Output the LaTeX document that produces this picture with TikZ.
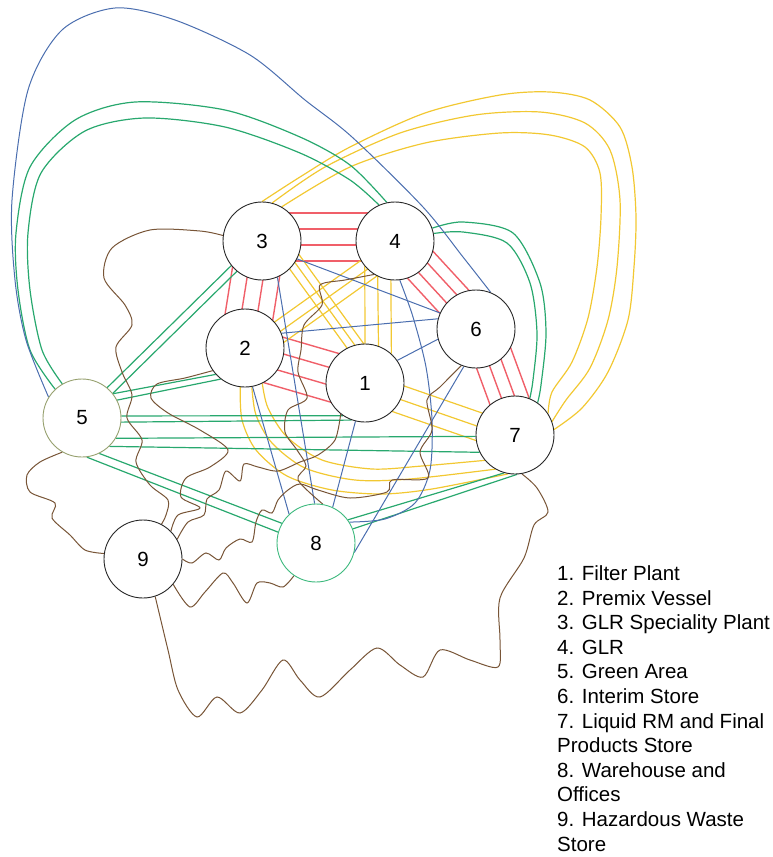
\documentclass[tikz,border=0pt]{standalone}
\usepackage{fontspec}
\setmainfont{Liberation Sans}
\usetikzlibrary{calc}
\pgfdeclarelayer{links}
\pgfsetlayers{links,main}

\definecolor{relA}{RGB}{240,95,105}
\definecolor{relE}{RGB}{242,200,50}
\definecolor{relI}{RGB}{40,168,110}
\definecolor{relO}{RGB}{75,110,175}
\definecolor{relX}{RGB}{120,85,55}
\definecolor{greenarea}{RGB}{150,160,110}
\definecolor{warehouse}{RGB}{60,185,125}

\tikzset{
  dept/.style={circle, draw=black!85, line width=0.9pt, fill=white,
    minimum size=78pt, inner sep=0pt, font=\fontsize{20.5}{24}\selectfont},
  linkA/.style={draw=relA, line width=1.4pt},
  linkE/.style={draw=relE, line width=1.2pt},
  linkI/.style={draw=relI, line width=1.2pt},
  linkO/.style={draw=relO, line width=1pt},
  linkX/.style={draw=relX, line width=1pt},
}

% parallel lines between two node centres, at the given side offsets
\newcommand\bundle[4]{%
  \foreach \bsh in {#4}{%
    \draw[#1] ($(#2.center)!\bsh pt!90:(#3.center)$) -- ($(#3.center)!\bsh pt!-90:(#2.center)$);}}

\begin{document}
\begin{tikzpicture}[x=1pt,y=-1pt]
\useasboundingbox (0,0) rectangle (773,857);

% departments
\node[dept] (n1) at (365,383) {1};
\node[dept] (n2) at (245,348) {2};
\node[dept] (n3) at (262,241) {3};
\node[dept] (n4) at (395,241) {4};
\node[dept, draw=greenarea] (n5) at (82,418) {5};
\node[dept] (n6) at (476,329) {6};
\node[dept] (n7) at (515,435) {7};
\node[dept, draw=warehouse] (n8) at (316,543) {8};
\node[dept] (n9) at (143,559) {9};

\begin{pgfonlayer}{links}
% A: absolutely necessary
\bundle{linkA}{n3}{n4}{28,12,-4,-20}
\bundle{linkA}{n3}{n2}{-25,-9,7,23}
\bundle{linkA}{n4}{n6}{-16,-4,9,21}
\bundle{linkA}{n6}{n7}{-13,0,13,26}
\bundle{linkA}{n2}{n1}{21,5,-12,-28}

% E: especially important
\draw[linkE] (n4.-140) -- (n1.90);
\draw[linkE] (n4.-116) -- (n1.70);
\draw[linkE] (n4.-96) -- (n1.48);
\bundle{linkE}{n4}{n2}{-4,7,18}
\bundle{linkE}{n3}{n1}{6,14,22}
\bundle{linkE}{n1}{n7}{10,-4,-18}
\draw[linkE] plot[smooth] coordinates {(n3.90) (300,177) (350,147) (425,113) (500,95) (550,92) (590,100) (620,127) (632,167) (636,217) (634,267) (628,320) (608,372) (582,408) (n7.8)};
\draw[linkE] plot[smooth] coordinates {(n3.75) (325,167) (400,133) (475,115) (540,112) (585,123) (610,150) (620,200) (617,267) (608,320) (590,368) (566,400) (n7.20)};
\draw[linkE] plot[smooth] coordinates {(n3.60) (350,167) (425,143) (500,133) (550,135) (585,147) (600,173) (601,217) (597,267) (588,318) (572,362) (552,392) (n7.33)};
\draw[linkE] plot[smooth] coordinates {(n2.-97) (242,420) (256,450) (287,476) (332,490) (382,494) (432,489) (n7.-100)};
\draw[linkE] plot[smooth] coordinates {(n2.-80) (256,415) (272,443) (305,468) (355,480) (410,479) (n7.-120)};
\draw[linkE] plot[smooth] coordinates {(n2.-64) (268,408) (287,437) (322,460) (372,469) (422,466) (n7.-140)};

% I: important
\bundle{linkI}{n5}{n3}{-4,4}
\draw[linkI] (n5.38) -- (n2.222);
\draw[linkI] (n5.27) -- (n2.232);
\draw[linkI] (n5.3) -- (n1.236);
\draw[linkI] (n5.-6) -- (n1.250);
\draw[linkI] (n5.-31) -- (n7.182);
\draw[linkI] (n5.-46) -- (n7.206);
\draw[linkI] (n5.-64) -- (n8.150);
\draw[linkI] (n5.-83) -- (n8.164);
\draw[linkI] (n8.36) -- (n7.-106);
\draw[linkI] (n8.21) -- (n7.-87);
\draw[linkI] plot[smooth] coordinates {(n4.19) (463,222) (513,233) (540,283) (546,333) (541,385) (n7.55)};
\draw[linkI] plot[smooth] coordinates {(n4.11) (463,232) (507,243) (530,283) (537,333) (533,380) (n7.68)};
\draw[linkI] plot[smooth] coordinates {(n5.133) (30,350) (18,290) (16,233) (30,167) (75,120) (135,102) (225,110) (300,137) (350,165) (n4.102)};
\draw[linkI] plot[smooth] coordinates {(n5.120) (42,350) (30,290) (28,233) (41,173) (85,131) (145,118) (225,127) (300,153) (350,180) (n4.114)};

% O: ordinary
\draw[linkO] plot[smooth] coordinates {(n5.148) (26,340) (15,280) (12,200) (28,90) (62,30) (115,8) (175,20) (250,55) (305,100) (352,137) (423,207) (463,257) (n6.68)};
\draw[linkO] (n3.-27) -- (n6.156);
\draw[linkO] (n2.22) -- (n6.165);
\draw[linkO] (n1.35) -- (n6.195);
\draw[linkO] (n6.-108) -- (n8.-14);
\draw[linkO] (n1.-104) -- (n8.65);
\draw[linkO] (n2.-79) -- (n8.133);
\draw[linkO] (n3.-67) -- (n8.92);
\draw[linkO] plot[smooth] coordinates {(n4.-83) (413,317) (426,367) (432,420) (430,470) (415,503) (385,519) (n8.32)};

% X: undesirable
\draw[linkX] plot[smooth] coordinates {(n3.172) (200,231) (150,230) (112,248) (104,278) (125,305) (132,325) (116,347) (122,372) (132,395) (127,418) (142,440) (136,462) (150,485) (168,500) (166,515) (n9.62)};
\draw[linkX] plot[smooth] coordinates {(n5.-120) (40,462) (27,475) (30,492) (55,503) (52,518) (70,535) (85,550) (n9.172)};
\draw[linkX] plot[smooth] coordinates {(n2.215) (185,378) (157,384) (151,398) (168,413) (200,430) (228,450) (210,467) (186,478) (181,497) (200,508) (178,515) (n9.45)};
\draw[linkX] plot[smooth] coordinates {(n4.-122) (345,280) (320,285) (322,305) (304,325) (301,350) (298,372) (307,398) (288,410) (285,432) (297,450) (306,466) (298,480) (n8.80)};
\draw[linkX] plot[smooth] coordinates {(n6.-112) (440,387) (427,400) (432,430) (420,452) (428,478) (392,480) (387,492) (350,498) (318,490) (300,484) (288,490) (278,500) (272,513) (262,510) (256,522) (252,542) (240,539) (226,548) (219,560) (206,553) (192,563) (n9.0)};
\draw[linkX] plot[smooth] coordinates {(n7.-80) (537,488) (548,512) (534,525) (524,558) (500,598) (500,640) (498,667) (470,660) (440,650) (423,677) (400,665) (377,648) (350,670) (320,697) (300,680) (283,660) (262,690) (240,713) (217,697) (197,717) (178,690) (168,650) (n9.-72)};
\draw[linkX] plot[smooth] coordinates {(n8.-124) (283,587) (270,583) (257,583) (247,603) (233,583) (223,573) (205,592) (190,607) (n9.-40)};
\draw[linkX] plot[smooth] coordinates {(n1.232) (335,440) (318,455) (300,462) (278,471) (258,467) (244,464) (240,481) (226,471) (219,490) (207,499) (204,515) (188,522) (n9.30)};
\end{pgfonlayer}

% key
\node[anchor=north west, align=left, inner sep=0pt,
      font=\fontsize{20.5}{24.6}\selectfont] (key) at (557,565.5)
 {1. Filter Plant\\2. Premix Vessel\\3. GLR Speciality Plant\\4. GLR\\5. Green Area\\6. Interim Store\\7. Liquid RM and Final\\Products Store\\8. Warehouse and\\Offices\\9. Hazardous Waste\\Store};
\end{tikzpicture}
\end{document}
